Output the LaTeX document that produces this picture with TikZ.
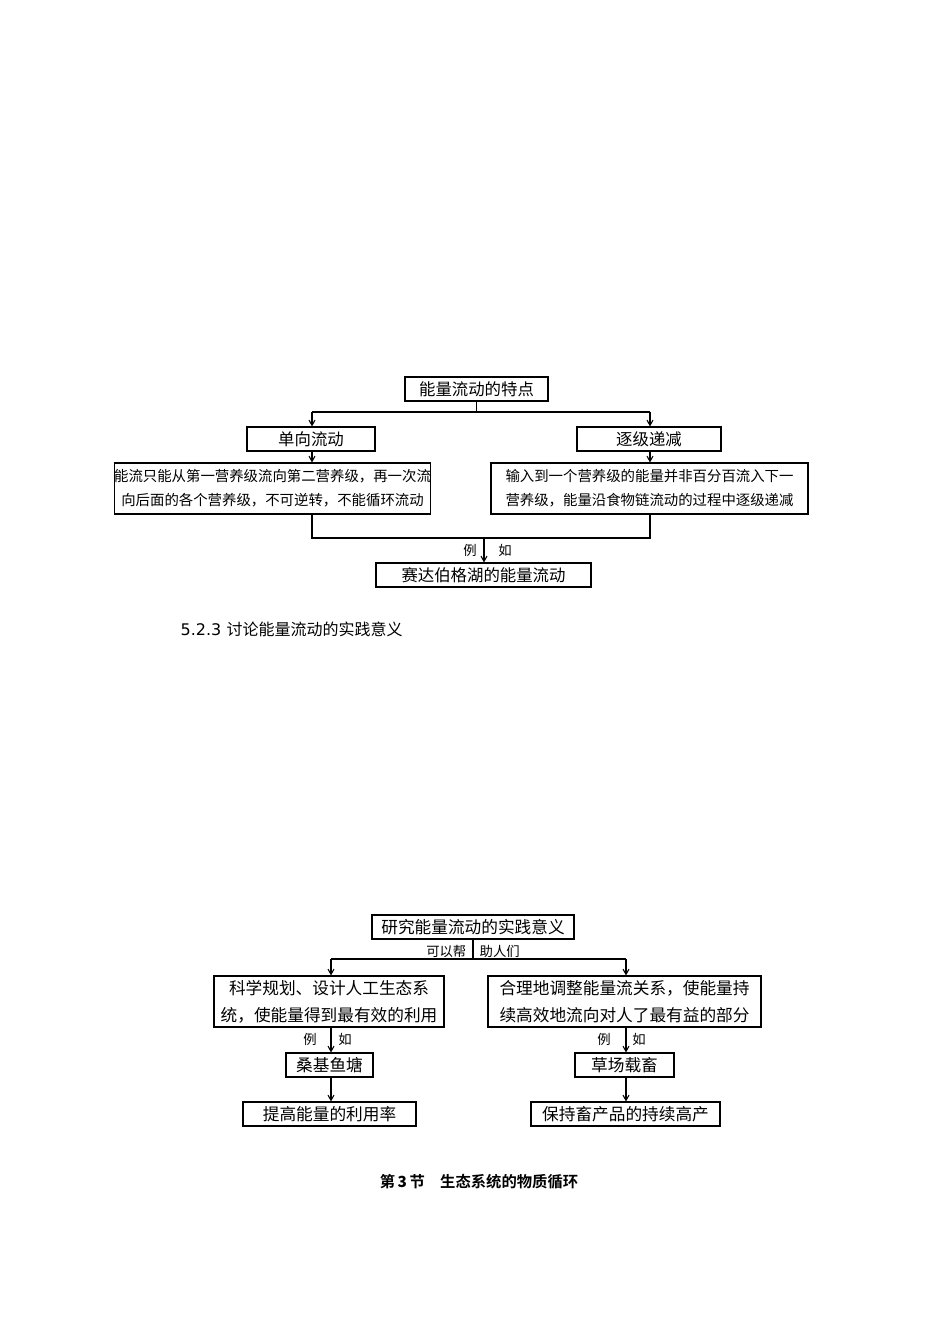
\documentclass[tikz,border=0pt]{standalone}
\usepackage{fontspec}
\setmainfont{DejaVu Sans}
\newfontfamily\cjk{Noto Sans CJK SC}
\newfontfamily\cjkb{Noto Sans CJK SC Bold}
\usetikzlibrary{arrows.meta}
\begin{document}
\begin{tikzpicture}[x=0.75pt,y=-0.75pt,
  bx/.style={draw,line width=0.8pt,inner sep=0pt,font=\cjk},
  ar/.style={-{Straight Barb[length=4pt,width=4.5pt]},line width=0.8pt},
  ln/.style={line width=0.8pt},
  sm/.style={font=\cjk\fontsize{10}{11}\selectfont}]
\useasboundingbox (0,0) rectangle (950,1344);
% top diagram
\node[bx,minimum width=143*0.75pt,minimum height=24*0.75pt,font=\cjk\fontsize{12.3}{13}\selectfont] (a) at (476.5,389) {能量流动的特点};
\node[bx,minimum width=128*0.75pt,minimum height=24*0.75pt,font=\cjk\fontsize{12.3}{13}\selectfont] (b) at (311,439) {单向流动};
\node[bx,minimum width=144*0.75pt,minimum height=24*0.75pt,font=\cjk\fontsize{12.3}{13}\selectfont] (c) at (649,439) {逐级递减};
\node[bx,minimum width=253*0.75pt,minimum height=51*0.75pt,align=center,font=\cjk\fontsize{10.8}{18}\selectfont] (d) at (272.5,488.5) {能流只能从第一营养级流向第二营养级，再一次流\\向后面的各个营养级，不可逆转，不能循环流动};
\node[bx,minimum width=317*0.75pt,minimum height=51*0.75pt,align=center,font=\cjk\fontsize{10.8}{18}\selectfont] (e) at (649.5,488.5) {输入到一个营养级的能量并非百分百流入下一\\营养级，能量沿食物链流动的过程中逐级递减};
\node[bx,minimum width=215*0.75pt,minimum height=24*0.75pt,font=\cjk\fontsize{12.3}{13}\selectfont] (f) at (483.5,575) {赛达伯格湖的能量流动};
\coordinate (j1) at (476.5,412);
\draw[ln] (a.south) -- (j1);
\draw[ln] (312,412) -- (650,412);
\draw[ar] (312,412) -- (b.north -| 312,0);
\draw[ar] (650,412) -- (c.north -| 650,0);
\draw[ar] (b.south -| 312,0) -- (d.north -| 312,0);
\draw[ar] (c.south -| 650,0) -- (e.north -| 650,0);
\coordinate (j2) at (484,538);
\draw[ln] (d.south -| 312,0) -- (312,538) -- (650,538) -- (e.south -| 650,0);
\draw[ar] (j2) -- (f.north -| 484,0);
\node[sm] (l1) at (470,550) {例};
\node[sm] (l2) at (505,550) {如};
\node[anchor=west,font=\fontsize{12}{13}\selectfont] (h) at (176,629) {5.2.3 {\cjk 讨论能量流动的实践意义}};
% bottom diagram
\node[bx,minimum width=202*0.75pt,minimum height=24*0.75pt,font=\cjk\fontsize{12.5}{13}\selectfont] (g) at (473,927) {研究能量流动的实践意义};
\node[bx,minimum width=230*0.75pt,minimum height=51*0.75pt,align=center,font=\cjk\fontsize{12.5}{20}\selectfont] (hh) at (329,1001.5) {科学规划、设计人工生态系\\统，使能量得到最有效的利用};
\node[bx,minimum width=273*0.75pt,minimum height=51*0.75pt,align=center,font=\cjk\fontsize{12.5}{20}\selectfont] (ii) at (624.5,1001.5) {合理地调整能量流关系，使能量持\\续高效地流向对人了最有益的部分};
\node[bx,minimum width=87*0.75pt,minimum height=24*0.75pt,font=\cjk\fontsize{12.5}{13}\selectfont] (jj) at (329.5,1065) {桑基鱼塘};
\node[bx,minimum width=173*0.75pt,minimum height=24*0.75pt,font=\cjk\fontsize{12.5}{13}\selectfont] (kk) at (329.5,1114) {提高能量的利用率};
\node[bx,minimum width=99*0.75pt,minimum height=24*0.75pt,font=\cjk\fontsize{12.5}{13}\selectfont] (ll) at (624.5,1065) {草场载畜};
\node[bx,minimum width=189*0.75pt,minimum height=24*0.75pt,font=\cjk\fontsize{12.5}{13}\selectfont] (mm) at (625.5,1114) {保持畜产品的持续高产};
\draw[ln] (g.south) -- (473,959);
\draw[ln] (331,959) -- (626,959);
\draw[ar] (331,959) -- (hh.north -| 331,0);
\draw[ar] (626,959) -- (ii.north -| 626,0);
\node[sm,anchor=east] (q1) at (471,951) {可以帮};
\node[sm,anchor=west] (q2) at (475,951) {助人们};
\draw[ar] (hh.south -| 331,0) -- (jj.north -| 331,0);
\draw[ar] (jj.south -| 331,0) -- (kk.north -| 331,0);
\draw[ar] (ii.south -| 626,0) -- (ll.north -| 626,0);
\draw[ar] (ll.south -| 626,0) -- (mm.north -| 626,0);
\node[sm] (r1) at (310,1039) {例};
\node[sm] (r2) at (345,1039) {如};
\node[sm] (r3) at (604,1039) {例};
\node[sm] (r4) at (639,1039) {如};
\node[font=\cjkb\fontsize{11.5}{12}\selectfont] (t) at (479,1182) {第\,{\bfseries 3}\,节\quad 生态系统的物质循环};
\end{tikzpicture}
\end{document}
